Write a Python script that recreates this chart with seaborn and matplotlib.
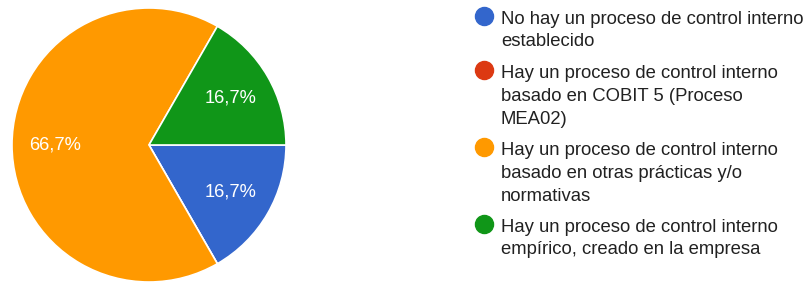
import matplotlib
matplotlib.use("Agg")
import matplotlib.pyplot as plt
from matplotlib.lines import Line2D
import seaborn as sns

sns.set_theme(style="white")
plt.rcParams['font.family'] = ['Liberation Sans', 'DejaVu Sans']

categories = [
    "No hay un proceso de control interno\nestablecido",
    "Hay un proceso de control interno\nbasado en COBIT 5 (Proceso\nMEA02)",
    "Hay un proceso de control interno\nbasado en otras prácticas y/o\nnormativas",
    "Hay un proceso de control interno\nempírico, creado en la empresa",
]
values = [16.7, 0.0, 66.7, 16.7]
colors = ["#3366CC", "#DC3912", "#FF9900", "#109618"]

W, H = 807, 282
fig = plt.figure(figsize=(W/100, H/100), dpi=100)
ax = fig.add_axes([12/W, 0/H, 274/W, 274/H])

total = sum(values)

def fmt(p):
    v = p * total / 100.0
    return ("%.1f%%" % v).replace(".", ",") if v > 0.5 else ""

wedges, texts, autotexts = ax.pie(
    values, colors=colors, startangle=0, counterclock=False,
    autopct=fmt, pctdistance=0.685,
    wedgeprops=dict(edgecolor="white", linewidth=1.2),
    textprops=dict(color="white", fontsize=13.2),
)
ax.set_aspect("equal")
ax.set_xlim(-1.0, 1.0)
ax.set_ylim(-1.0, 1.0)

# legend (manual, to align markers with first text line)
first_baseline = [23, 77, 154, 231]
line_px = 23.5
for lab, c, y in zip(categories, colors, first_baseline):
    n = lab.count("\n")
    fig.add_artist(Line2D([484/W], [1 - (y - 7)/H], marker="o", linestyle="",
                          markersize=13, markerfacecolor=c, markeredgecolor=c,
                          transform=fig.transFigure))
    fig.text(501/W, 1 - (y + n * line_px)/H, lab, ha="left", va="baseline",
             fontsize=13.3, color="#212121", linespacing=1.45)

fig.savefig("out.png", dpi=100)
